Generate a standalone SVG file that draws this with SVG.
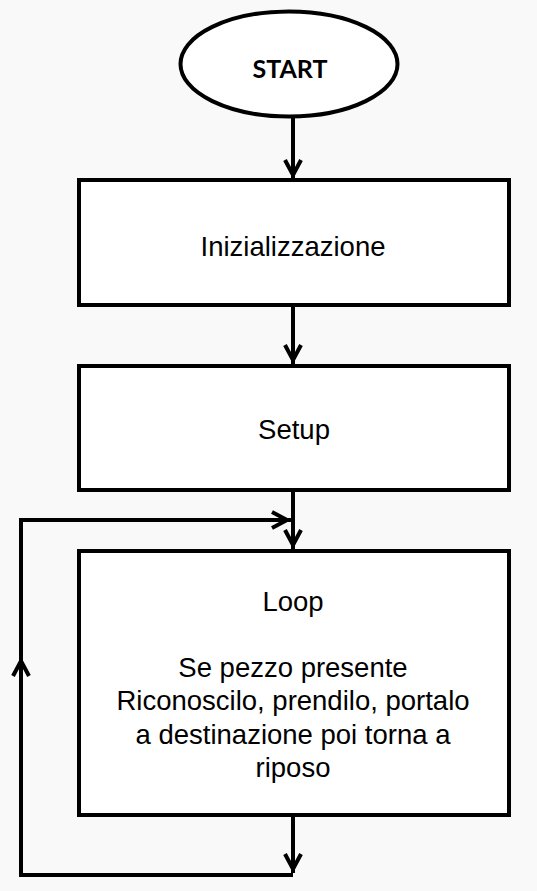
<svg xmlns="http://www.w3.org/2000/svg" width="537" height="891" viewBox="0 0 537 891">
  <defs>
    <marker id="arr" markerUnits="userSpaceOnUse" markerWidth="30" markerHeight="30" refX="4" refY="0" orient="auto" overflow="visible" viewBox="-20 -12 30 24">
      <path d="M-15,-8 L0,0 L-15,8" fill="none" stroke="#000" stroke-width="4" stroke-linejoin="miter"/>
    </marker>
  </defs>
  <style>
    .shape { fill: #ffffff; stroke: #000000; stroke-width: 4; }
    .conn { fill: none; stroke: #000000; stroke-width: 4; stroke-linejoin: miter; }
    .lbl { font-family: "Liberation Sans", Arial, sans-serif; font-size: 27.5px; fill: #000; text-anchor: middle; }
    .start { font-family: Lato, "Open Sans", "Liberation Sans", sans-serif; font-weight: bold; font-size: 25px; fill: #000; text-anchor: middle; }
  </style>
  <rect x="0" y="0" width="537" height="891" fill="#f9f9f9"/>

  <g id="connectors">
    <path class="conn" d="M293,116 L293,179" marker-end="url(#arr)"/>
    <path class="conn" d="M293,305 L293,364" marker-end="url(#arr)"/>
    <path class="conn" d="M293,490 L293,549" marker-end="url(#arr)"/>
    <path class="conn" d="M293,815 L293,873" marker-end="url(#arr)"/>
    <path class="conn" d="M293,875 L21,875 L21,657" marker-end="url(#arr)"/>
    <path class="conn" d="M21,659 L21,520 L291,520" marker-end="url(#arr)"/>
  </g>

  <g id="start">
    <ellipse class="shape" cx="289" cy="64" rx="108.5" ry="52.5"/>
    <text class="start" x="290" y="78">START</text>
  </g>

  <g id="inizializzazione">
    <rect class="shape" x="79" y="180" width="430" height="125"/>
    <text class="lbl" x="293" y="256">Inizializzazione</text>
  </g>

  <g id="setup">
    <rect class="shape" x="79" y="366" width="430" height="124"/>
    <text class="lbl" x="294" y="439">Setup</text>
  </g>

  <g id="loop">
    <rect class="shape" x="79" y="551" width="430" height="264"/>
    <text class="lbl" x="293" y="610.5">Loop</text>
    <text class="lbl" x="293" y="677.1">Se pezzo presente</text>
    <text class="lbl" x="293" y="710.4">Riconoscilo, prendilo, portalo</text>
    <text class="lbl" x="293" y="743.7">a destinazione poi torna a</text>
    <text class="lbl" x="293" y="777">riposo</text>
  </g>
</svg>
